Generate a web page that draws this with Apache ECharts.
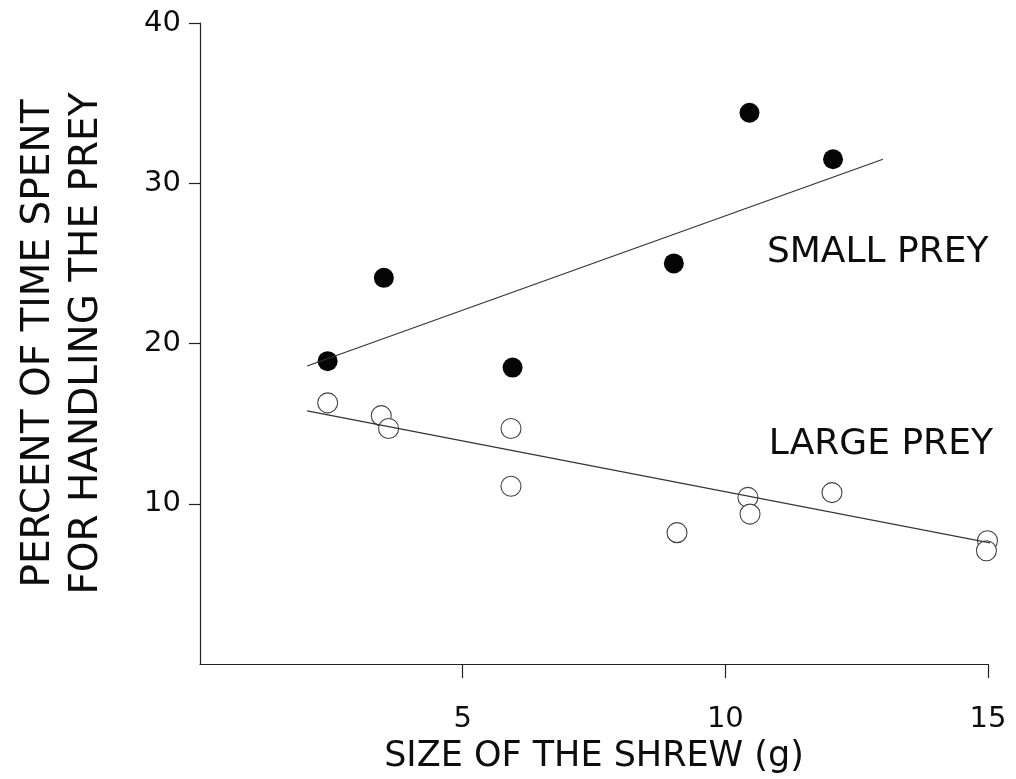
<!DOCTYPE html>
<html>
<head>
<meta charset="utf-8">
<script src="https://cdn.jsdelivr.net/npm/echarts@6/dist/echarts.min.js"></script>
<style>
  html, body { margin: 0; padding: 0; background: #fff; }
  #chart { width: 1016px; height: 779px; }
</style>
</head>
<body>
<div id="chart"></div>
<script>
// shrew size (g) vs % of time spent handling the prey
const smallPrey = [
  [2.43, 18.9], [3.5, 24.1], [5.95, 18.5],
  [9.02, 25.0], [10.46, 34.4], [12.05, 31.5],
];
const largePrey = [
  [2.43, 16.3], [3.45, 15.5], [3.59, 14.7], [5.92, 14.7], [5.92, 11.1],
  [9.08, 8.2], [10.43, 10.4], [10.47, 9.36], [12.03, 10.7],
  [14.99, 7.7], [14.97, 7.07],
];
// fitted lines
const smallFit = [[2.04, 18.6], [13.0, 31.5]];
const largeFit = [[2.04, 15.8], [15.05, 7.55]];

const xTicks = [5, 10, 15];
const yTicks = [10, 20, 30, 40];

const labels = [
  { name: 'SMALL PREY', value: [12.9, 25.7] },
  { name: 'LARGE PREY', value: [12.96, 13.7] },
];

const font = 'DejaVu Sans';
const ink = '#0d0d0d';

const chart = echarts.init(document.getElementById('chart'));

chart.setOption({
  backgroundColor: '#fff',
  animation: false,
  grid: { left: 200, right: 28, top: 23, bottom: 114 },
  xAxis: {
    type: 'value',
    min: 0,
    max: 15,
    interval: 5,
    name: 'SIZE OF THE SHREW (g)',
    nameLocation: 'middle',
    nameGap: 68,
    nameTextStyle: { fontFamily: font, fontSize: 35, color: ink },
    axisLine: { lineStyle: { color: '#222', width: 1.2 } },
    axisTick: { length: 14, customValues: xTicks, lineStyle: { color: '#222', width: 1.2 } },
    axisLabel: {
      customValues: xTicks,
      margin: 41,
      fontFamily: font,
      fontSize: 29,
      color: ink,
    },
    splitLine: { show: false },
  },
  yAxis: {
    type: 'value',
    min: 0,
    max: 40,
    interval: 10,
    name: 'PERCENT OF TIME SPENT\nFOR HANDLING THE PREY',
    nameLocation: 'middle',
    nameGap: 89,
    nameTextStyle: { fontFamily: font, fontSize: 39, lineHeight: 48, color: ink },
    axisLine: { show: true, lineStyle: { color: '#222', width: 1.2 } },
    axisTick: { show: true, length: 11, customValues: yTicks, lineStyle: { color: '#222', width: 1.2 } },
    axisLabel: {
      customValues: yTicks,
      margin: 19,
      fontFamily: font,
      fontSize: 29,
      color: ink,
    },
    splitLine: { show: false },
  },
  series: [
    {
      type: 'line',
      data: smallFit,
      symbol: 'none',
      lineStyle: { color: '#333', width: 1.2 },
    },
    {
      type: 'line',
      data: largeFit,
      symbol: 'none',
      lineStyle: { color: '#333', width: 1.2 },
    },
    {
      type: 'scatter',
      data: largePrey,
      symbolSize: 20,
      itemStyle: { color: '#fff', borderColor: '#444', borderWidth: 1.1, opacity: 1 },
    },
    {
      type: 'scatter',
      data: smallPrey,
      symbolSize: 20,
      itemStyle: { color: '#050505', opacity: 1 },
    },
    {
      type: 'scatter',
      data: labels,
      symbolSize: 0,
      itemStyle: { opacity: 1 },
      label: {
        show: true,
        position: 'inside',
        formatter: '{b}',
        fontFamily: font,
        fontSize: 36,
        color: ink,
      },
    },
  ],
});
</script>
</body>
</html>
